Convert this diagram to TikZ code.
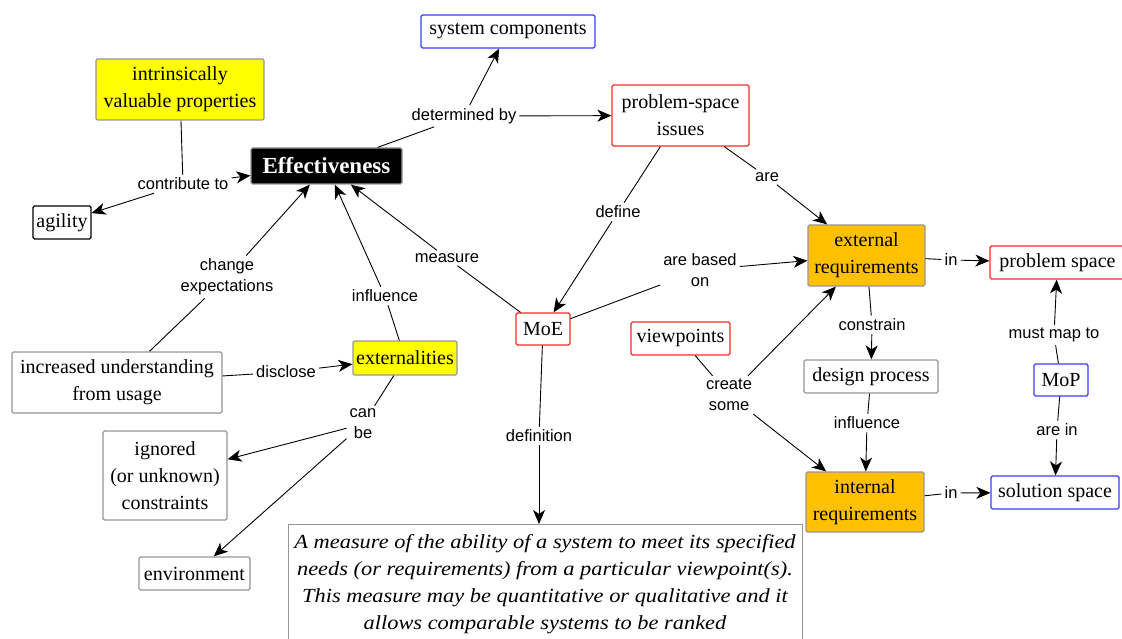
\documentclass[tikz,border=0pt]{standalone}
\usepackage{fontspec}
\setmainfont{Liberation Serif}
\newfontfamily\linkfont{Liberation Sans}
\newfontfamily\deffont[FakeStretch=1.12]{Liberation Serif}
\usetikzlibrary{arrows.meta}

\definecolor{cblue}{RGB}{60,60,255}
\definecolor{cred}{RGB}{255,40,40}
\definecolor{cgray}{RGB}{150,150,150}
\definecolor{cyellow}{RGB}{255,255,0}
\definecolor{corange}{RGB}{255,192,0}

\tikzset{
  concept/.style={draw, line width=1.2pt, rounded corners=1.5pt, inner sep=0pt,
    align=center, font=\fontsize{20}{27}\selectfont, text=black},
  bluebox/.style={concept, draw=cblue, fill=white},
  redbox/.style={concept, draw=cred, fill=white},
  graybox/.style={concept, draw=cgray, fill=white},
  blackbox/.style={concept, draw=black, fill=white},
  yellowbox/.style={concept, draw=cgray, fill=cyellow},
  orangebox/.style={concept, draw=cgray, fill=corange},
  linkph/.style={inner sep=3pt, align=center, font=\linkfont\fontsize{16.5}{21}\selectfont},
  conn/.style={line width=0.9pt, draw=black},
  arr/.style={conn, -{Stealth[length=14pt, width=12pt, inset=4pt]}},
}

\begin{document}
\begin{tikzpicture}[x=1pt, y=-1pt]
\useasboundingbox (0,0) rectangle (1122,639);
\clip (0,0) rectangle (1122,639);

% concepts
\node[bluebox, minimum width=174, minimum height=33] (sys) at (508,31.5) {system components};
\node[yellowbox, minimum width=168, minimum height=61] (intr) at (180,89.5) {intrinsically\\valuable properties};
\node[concept, draw=cgray, fill=black, text=white, minimum width=151, minimum height=36,
      font=\fontsize{23}{27}\selectfont\bfseries] (eff) at (326.5,166) {Effectiveness};
\node[redbox, minimum width=137, minimum height=61] (psi) at (680.5,115.5) {problem-space\\issues};
\node[blackbox, minimum width=58, minimum height=33] (agil) at (62,222.5) {agility};
\node[orangebox, minimum width=117, minimum height=61] (ext) at (866.5,255.5) {external\\requirements};
\node[redbox, minimum width=135, minimum height=33] (pspace) at (1057.5,262.5) {problem space};
\node[redbox, minimum width=54, minimum height=32] (moe) at (543,329) {MoE};
\node[redbox, minimum width=99, minimum height=33] (view) at (680.5,338.5) {viewpoints};
\node[graybox, minimum width=134, minimum height=33] (design) at (871,376.5) {design process};
\node[bluebox, minimum width=54, minimum height=32] (mop) at (1061,380) {MoP};
\node[graybox, minimum width=210, minimum height=61] (incr) at (117,382.5) {increased understanding\\from usage};
\node[yellowbox, minimum width=104, minimum height=34] (extn) at (405,358) {externalities};
\node[graybox, minimum width=124, minimum height=89] (ign) at (165,475.5) {ignored\\(or unknown)\\constraints};
\node[graybox, minimum width=111, minimum height=33] (env) at (194.5,573.5) {environment};
\node[orangebox, minimum width=118, minimum height=60] (int) at (865,502) {internal\\requirements};
\node[bluebox, minimum width=128, minimum height=33] (sol) at (1055,492.5) {solution space};
\node[draw=cgray, line width=1pt, fill=white, anchor=north, minimum width=514,
      inner xsep=0pt, inner ysep=10pt, align=center,
      font=\deffont\itshape\fontsize{20}{27}\selectfont] (def) at (545,524)
  {A measure of the ability of a system to meet its specified\\
   needs (or requirements) from a particular viewpoint(s).\\
   This measure may be quantitative or qualitative and it\\
   allows comparable systems to be ranked\\ ~};

% linking phrases
\node[linkph] (detby) at (464,116) {determined by};
\node[linkph] (contrib) at (183,184) {contribute to};
\node[linkph] (chexp) at (227,277) {change\\expectations};
\node[linkph] (infa) at (385,296) {influence};
\node[linkph] (meas) at (447,258) {measure};
\node[linkph] (defn) at (618,212) {define};
\node[linkph] (are) at (767,177) {are};
\node[linkph] (based) at (700,270) {are based\\on};
\node[linkph] (ina) at (951,260) {in};
\node[linkph] (constr) at (872,325) {constrain};
\node[linkph] (mustmap) at (1054,335) {must map to};
\node[linkph] (discl) at (286,372) {disclose};
\node[linkph] (canbe) at (363,424) {can\\be};
\node[linkph] (definition) at (539,436) {definition};
\node[linkph] (create) at (729,395) {create\\some};
\node[linkph] (infb) at (867,423) {influence};
\node[linkph] (arein) at (1057,430) {are in};
\node[linkph] (inb) at (951,493) {in};

% connectors
\draw[conn] (eff) -- (detby);
\draw[arr] (detby) -- (sys);
\draw[arr] (detby) -- (psi);

\draw[conn] (intr) -- (contrib);
\draw[arr] (contrib) -- (eff);
\draw[arr] (contrib) -- (agil);

\draw[conn] (incr) -- (chexp);
\draw[arr] (chexp) -- (eff);

\draw[conn] (extn) -- (infa);
\draw[arr] (infa) -- (eff);

\draw[conn] (moe) -- (meas);
\draw[arr] (meas) -- (eff);

\draw[conn] (psi) -- (defn);
\draw[arr] (defn) -- (moe);

\draw[conn] (psi) -- (are);
\draw[arr] (are) -- (ext);

\draw[conn] (moe) -- (based);
\draw[arr] (based) -- (ext);

\draw[conn] (ext) -- (ina);
\draw[arr] (ina) -- (pspace);

\draw[conn] (ext) -- (constr);
\draw[arr] (constr) -- (design);

\draw[conn] (design) -- (infb);
\draw[arr] (infb) -- (int);

\draw[conn] (view) -- (create);
\draw[arr] (create) -- (ext);
\draw[arr] (create) -- (int);

\draw[conn] (mop) -- (mustmap);
\draw[arr] (mustmap) -- (pspace);
\draw[conn] (mop) -- (arein);
\draw[arr] (arein) -- (sol);

\draw[conn] (int) -- (inb);
\draw[arr] (inb) -- (sol);

\draw[conn] (incr) -- (discl);
\draw[arr] (discl) -- (extn);

\draw[conn] (extn) -- (canbe);
\draw[arr] (canbe) -- (ign);
\draw[arr] (canbe) -- (env);

\draw[conn] (moe) -- (definition);
\draw[arr] (definition) -- (def.north -| definition);
\end{tikzpicture}
\end{document}
